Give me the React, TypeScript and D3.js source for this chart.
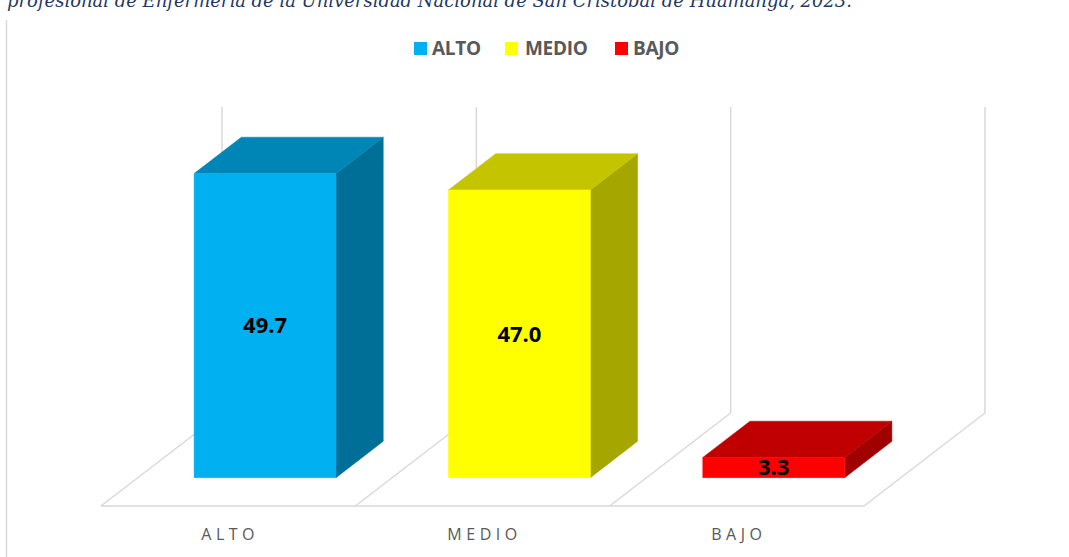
import { useEffect, useRef } from 'react'
import * as d3 from 'd3'

const categories = ['ALTO', 'MEDIO', 'BAJO']
const values = [49.7, 47.0, 3.3]
const labels = ['49.7', '47.0', '3.3']
const yMax = 50

// front / top / side shades per bar
const FRONT = ['#00B0F0', '#FFFF00', '#FF0000']
const TOP = ['#0086B6', '#C4C400', '#C00000']
const SIDE = ['#006F98', '#A6A600', '#A00000']

const W = 1069
const H = 557
const GRID = '#d9d9d9'
const TXT = '#595959'

export default function App() {
  const svgRef = useRef<SVGSVGElement>(null)

  useEffect(() => {
    const svg = d3.select(svgRef.current)
    svg.selectAll('*').remove()

    // floor front edge and depth offset of the 3D box
    const floorY = 506
    const depthX = 121
    const depthY = -93
    const x = d3.scaleBand().domain(categories).range([101, 864]).paddingInner(0.442).paddingOuter(0.221)
    const h = d3.scaleLinear().domain([0, yMax]).range([0, 306])
    const step = x.step()

    // project (x on front edge, z depth 0..1, value) to screen
    const P = (px: number, z: number, v: number): [number, number] =>
      [px + z * depthX, floorY + z * depthY - h(v)]

    // title (cut at the top of the crop)
    svg.append('text')
      .attr('x', 7).attr('y', 7)
      .attr('font-family', '"DejaVu Serif", serif')
      .attr('font-style', 'italic')
      .attr('font-size', '18px')
      .attr('fill', '#1F3864')
      .attr('textLength', 845).attr('lengthAdjust', 'spacingAndGlyphs')
      .text('profesional de Enfermería de la Universidad Nacional de San Cristóbal de Huamanga, 2023.')

    // chart border on the left
    svg.append('line')
      .attr('x1', 6.5).attr('x2', 6.5).attr('y1', 20).attr('y2', H)
      .attr('stroke', GRID).attr('stroke-width', 1.5)

    // legend
    const legend = svg.append('g')
    const legX = [414, 505, 615]
    const legT = [432, 525, 633]
    categories.forEach((c, i) => {
      legend.append('rect').attr('x', legX[i]).attr('y', 42).attr('width', 13).attr('height', 13).attr('fill', FRONT[i])
      legend.append('text')
        .attr('x', legT[i]).attr('y', 55)
        .attr('font-family', '"Open Sans", sans-serif').attr('font-weight', 700).attr('font-size', '19px')
        .attr('letter-spacing', '-0.3px')
        .attr('fill', TXT).text(c)
    })

    // floor and back grid lines at category boundaries
    const grid = svg.append('g').attr('stroke', GRID).attr('stroke-width', 1.5).attr('fill', 'none')
    const x0 = x.range()[0]
    d3.range(categories.length + 1).forEach(i => {
      const bx = x0 + i * step
      const a = P(bx, 0, 0), b = P(bx, 1, 0), c = P(bx, 1, yMax)
      grid.append('path').attr('d', d3.line()([a, b, c]))
    })
    grid.append('path').attr('d', d3.line()([P(x0, 0, 0), P(x0 + categories.length * step, 0, 0)]))

    // bars as 3D boxes
    const z0 = 0.305, z1 = 0.695
    const bars = svg.append('g')
    categories.forEach((c, i) => {
      const l = x(c)!, r = l + x.bandwidth(), v = values[i]
      const front = [P(l, z0, 0), P(r, z0, 0), P(r, z0, v), P(l, z0, v)] as [number, number][]
      const top = [P(l, z0, v), P(r, z0, v), P(r, z1, v), P(l, z1, v)] as [number, number][]
      const side = [P(r, z0, 0), P(r, z1, 0), P(r, z1, v), P(r, z0, v)] as [number, number][]
      const poly = (pts: [number, number][], fill: string) =>
        bars.append('path').attr('d', d3.line()(pts) + 'Z').attr('fill', fill)
          .attr('stroke', fill).attr('stroke-width', 0.5)
      poly(side, SIDE[i])
      poly(top, TOP[i])
      poly(front, FRONT[i])

      const [fx, fyb] = P(l + x.bandwidth() / 2, z0, 0)
      const fyt = P(l, z0, v)[1]
      bars.append('text')
        .attr('x', fx).attr('y', (fyb + fyt) / 2)
        .attr('dy', '0.36em')
        .attr('text-anchor', 'middle')
        .attr('font-family', '"Open Sans", sans-serif').attr('font-weight', 700).attr('font-size', '22px')
        .attr('fill', '#000').text(labels[i])
    })

    // category labels under the floor
    categories.forEach(c => {
      svg.append('text')
        .attr('x', x(c)! + x.bandwidth() / 2 + 2).attr('y', 540)
        .attr('text-anchor', 'middle')
        .attr('font-family', '"Open Sans", sans-serif').attr('font-size', '16px')
        .attr('letter-spacing', '4.5px')
        .attr('fill', TXT).text(c)
    })
  }, [])

  return (
    <div style={{ position: 'fixed', left: 0, top: 0, width: W, height: H, background: '#fff' }}>
      <svg ref={svgRef} width={W} height={H} style={{ display: 'block' }} />
    </div>
  )
}
